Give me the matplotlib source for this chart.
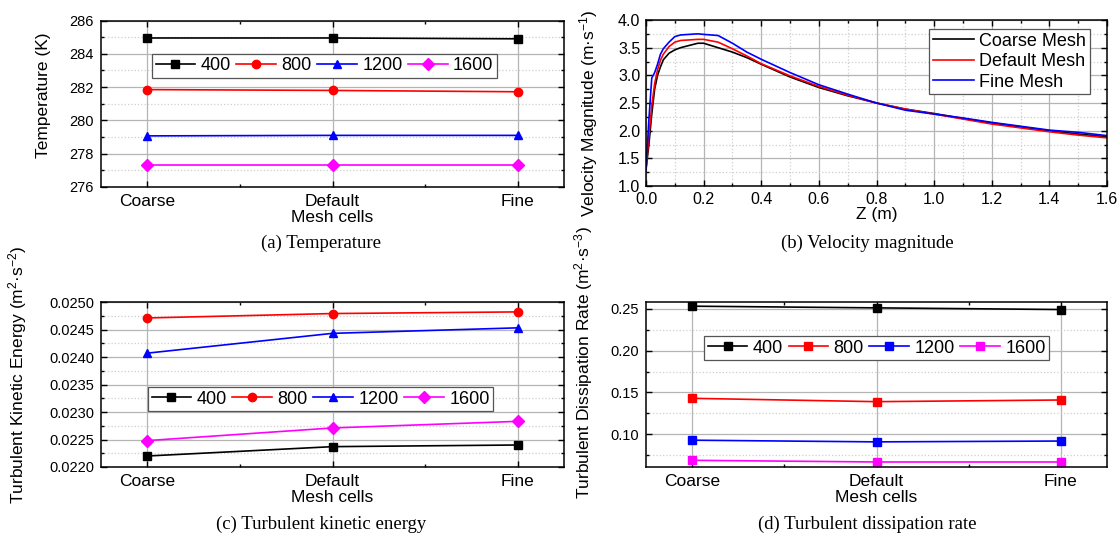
import matplotlib
matplotlib.use('Agg')
import matplotlib.pyplot as plt
from matplotlib.ticker import MultipleLocator, FormatStrFormatter

plt.rcParams['font.family'] = ['Liberation Sans', 'DejaVu Sans']
plt.rcParams['mathtext.default'] = 'regular'

# mesh comparison data
mesh = ['Coarse', 'Default', 'Fine']
series = ['400', '800', '1200', '1600']
colors = ['black', 'red', 'blue', 'magenta']

temp_400 = [284.95, 284.95, 284.90]
temp_800 = [281.85, 281.80, 281.72]
temp_1200 = [279.07, 279.10, 279.10]
temp_1600 = [277.35, 277.35, 277.35]

tke_400 = [0.02220, 0.02237, 0.02240]
tke_800 = [0.02471, 0.02479, 0.02482]
tke_1200 = [0.02407, 0.02443, 0.02453]
tke_1600 = [0.02248, 0.02271, 0.02283]

eps_400 = [0.253, 0.251, 0.249]
eps_800 = [0.143, 0.139, 0.141]
eps_1200 = [0.093, 0.091, 0.092]
eps_1600 = [0.069, 0.067, 0.067]

# velocity magnitude along z
z = [0, 0.01, 0.02, 0.03, 0.04, 0.05, 0.06, 0.08, 0.10, 0.12, 0.15, 0.18, 0.20,
     0.25, 0.30, 0.35, 0.40, 0.50, 0.60, 0.70, 0.80, 0.90, 1.00, 1.10, 1.20,
     1.30, 1.40, 1.50, 1.60]
vel_coarse = [1.30, 1.75, 2.30, 2.75, 3.00, 3.15, 3.28, 3.40, 3.46, 3.50, 3.54, 3.58, 3.58,
              3.50, 3.42, 3.32, 3.20, 2.97, 2.78, 2.63, 2.50, 2.39, 2.31, 2.22, 2.14,
              2.07, 2.00, 1.94, 1.89]
vel_default = [1.30, 1.90, 2.45, 2.85, 3.10, 3.27, 3.38, 3.52, 3.60, 3.63, 3.64, 3.65, 3.65,
               3.60, 3.48, 3.35, 3.21, 2.99, 2.80, 2.64, 2.50, 2.39, 2.30, 2.21, 2.12,
               2.05, 1.98, 1.92, 1.87]
vel_fine = [1.30, 2.20, 2.95, 3.05, 3.20, 3.38, 3.48, 3.60, 3.70, 3.73, 3.74, 3.75, 3.74,
            3.72, 3.58, 3.42, 3.29, 3.05, 2.83, 2.66, 2.50, 2.37, 2.30, 2.23, 2.15,
            2.08, 2.01, 1.97, 1.91]

W, H = 1120, 535
fig = plt.figure(figsize=(W / 100, H / 100), dpi=100)


def rect(l, r, t, b):
    return [l / W, 1 - b / H, (r - l) / W, (b - t) / H]


def style(ax):
    ax.tick_params(which='both', direction='in', top=True, right=True, width=1)
    ax.tick_params(which='major', length=4)
    ax.tick_params(which='minor', length=2.5)
    for s in ax.spines.values():
        s.set_linewidth(1.1)
    ax.grid(which='major', color='#b5b5b5', linewidth=0.9)
    ax.set_axisbelow(True)


def mesh_panel(box, data, markers, ylim, major, minor, fmt, ylabel, lab_xy, leg_xy):
    ax = fig.add_axes(rect(*box))
    style(ax)
    for vals, name, c, m in zip(data, series, colors, markers):
        ax.plot(range(len(mesh)), vals, color=c, marker=m, ms=6, lw=1.2, label=name)
    ax.set_xlim(-0.25, 2.25)
    ax.set_xticks(range(len(mesh)))
    ax.set_xticklabels(mesh, fontsize=12.5)
    ax.xaxis.set_minor_locator(MultipleLocator(0.5))
    ax.set_ylim(*ylim)
    ax.yaxis.set_major_locator(MultipleLocator(major))
    ax.yaxis.set_minor_locator(MultipleLocator(minor))
    ax.yaxis.set_major_formatter(FormatStrFormatter(fmt))
    ax.tick_params(axis='y', labelsize=10.5, pad=5)
    ax.tick_params(axis='x', pad=5)
    ax.grid(which='minor', axis='y', color='#cfcfcf', linestyle=':', linewidth=0.9)
    ax.set_xlabel('Mesh cells', fontsize=12.5, labelpad=1)
    ax.set_ylabel(ylabel, fontsize=12.5)
    ax.yaxis.set_label_coords(*lab_xy)
    leg = ax.legend(ncol=4, loc='upper left', bbox_to_anchor=leg_xy, borderaxespad=0,
                    fontsize=13, handlelength=2.2, handletextpad=0.3, columnspacing=0.3,
                    borderpad=0.2, fancybox=False, edgecolor='#555555', framealpha=1)
    leg.get_frame().set_linewidth(0.9)
    return ax


# (a) temperature
mesh_panel((101, 564, 20.5, 187), [temp_400, temp_800, temp_1200, temp_1600],
           ['s', 'o', '^', 'D'], (276, 286), 2, 1, '%d', 'Temperature (K)',
           (-0.108, 0.55), (0.11, 0.80))

# (c) turbulent kinetic energy
mesh_panel((101, 564, 302, 467), [tke_400, tke_800, tke_1200, tke_1600],
           ['s', 'o', '^', 'D'], (0.0220, 0.0250), 0.0005, 0.00025, '%.4f',
           'Turbulent Kinetic Energy (m$^{2}$·s$^{-2}$)',
           (-0.155, 0.56), (0.1015, 0.485))

# (d) turbulent dissipation rate
mesh_panel((646, 1107, 302, 467), [eps_400, eps_800, eps_1200, eps_1600],
           ['s', 's', 's', 's'], (0.061, 0.258), 0.05, 0.025, '%.2f',
           'Turbulent Dissipation Rate (m$^{2}$·s$^{-3}$)',
           (-0.11, 0.63), (0.126, 0.794))

# (b) velocity magnitude
ax = fig.add_axes(rect(646, 1107, 20, 186))
style(ax)
ax.plot(z, vel_coarse, color='black', lw=1.2, label='Coarse Mesh')
ax.plot(z, vel_default, color='red', lw=1.2, label='Default Mesh')
ax.plot(z, vel_fine, color='blue', lw=1.2, label='Fine Mesh')
ax.set_xlim(0, 1.6)
ax.set_ylim(1.0, 4.0)
ax.xaxis.set_major_locator(MultipleLocator(0.2))
ax.xaxis.set_minor_locator(MultipleLocator(0.1))
ax.yaxis.set_major_locator(MultipleLocator(0.5))
ax.yaxis.set_minor_locator(MultipleLocator(0.25))
ax.xaxis.set_major_formatter(FormatStrFormatter('%.1f'))
ax.yaxis.set_major_formatter(FormatStrFormatter('%.1f'))
ax.tick_params(labelsize=11.5, pad=4)
ax.grid(which='minor', color='#cfcfcf', linestyle=':', linewidth=0.9)
ax.set_xlabel('Z (m)', fontsize=12.5, labelpad=0)
ax.set_ylabel('Velocity Magnitude (m·s$^{-1}$)', fontsize=12.5)
ax.yaxis.set_label_coords(-0.1, 0.44)
leg = ax.legend(loc='upper right', bbox_to_anchor=(0.963, 0.946), borderaxespad=0,
                fontsize=13, handlelength=2.3, handletextpad=0.3, labelspacing=0.2,
                borderpad=0.2, fancybox=False, edgecolor='#555555', framealpha=1)
leg.get_frame().set_linewidth(0.9)

# captions
cap = dict(family='Liberation Serif', fontsize=13.5, ha='center', va='center')
fig.text(321 / W, 1 - 243 / H, '(a) Temperature', **cap)
fig.text(867 / W, 1 - 243 / H, '(b) Velocity magnitude', **cap)
fig.text(321 / W, 1 - 524 / H, '(c) Turbulent kinetic energy', **cap)
fig.text(867 / W, 1 - 524 / H, '(d) Turbulent dissipation rate', **cap)

fig.savefig('out.png', dpi=100)
